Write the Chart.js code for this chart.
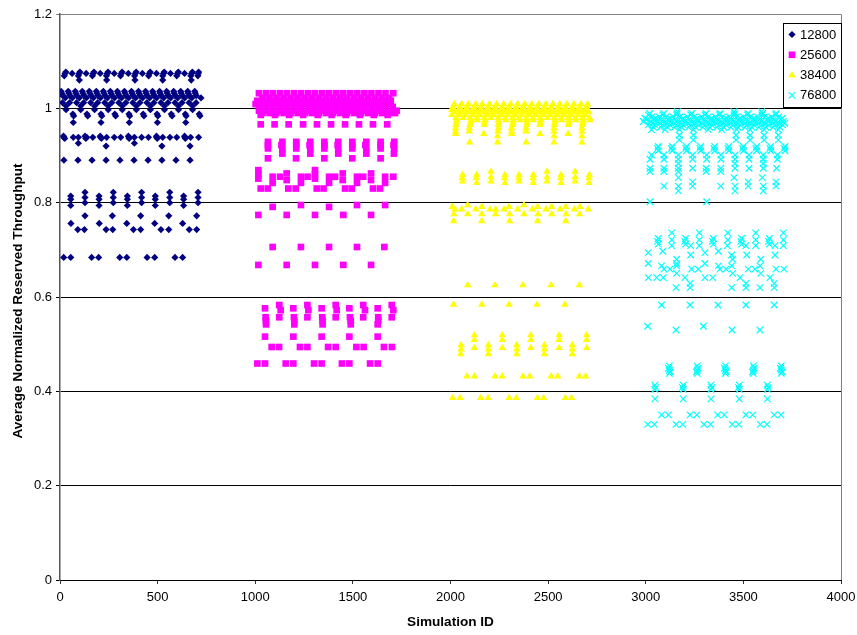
<!DOCTYPE html>
<html>
<head>
<meta charset="utf-8">
<title>Average Normalized Reserved Throughput</title>
<script src="https://cdn.jsdelivr.net/npm/chart.js@4"></script>
<style>
  html, body { margin: 0; padding: 0; background: #fff; }
  canvas { display: block; }
</style>
</head>
<body>
<canvas id="chart" width="857" height="635"></canvas>
<script>
const xTicks = [0, 500, 1000, 1500, 2000, 2500, 3000, 3500, 4000];
const yTicks = [0, 0.2, 0.4, 0.6, 0.8, 1, 1.2];
const seriesNames = ['12800', '25600', '38400', '76800'];

// every row is [throughput, [simulation ids]]
const rows12800 = [
  [1.077, [30, 102, 174, 246, 318, 390, 462, 534, 606, 678, 710]],
  [1.074, [26, 62, 98, 134, 170, 206, 242, 278, 314, 350, 386, 422, 458, 494, 530, 566, 602, 638, 674, 708]],
  [1.069, [22, 94, 166, 238, 310, 382, 454, 526, 598, 670, 706]],
  [1.060, [99, 239, 384, 526, 672]],
  [1.036, [6, 42, 78, 114, 150, 186, 222, 258, 294, 330, 366, 402, 438, 474, 510, 546, 582, 618, 654, 690]],
  [1.032, [9, 45, 81, 117, 153, 189, 225, 261, 297, 333, 369, 405, 441, 477, 513, 549, 585, 621, 657, 693]],
  [1.027, [14, 50, 86, 122, 158, 194, 230, 266, 302, 338, 374, 410, 446, 482, 518, 554, 590, 626, 662, 698]],
  [1.022, [27, 63, 99, 135, 171, 207, 243, 279, 315, 351, 387, 423, 459, 495, 531, 567, 603, 639, 675, 722]],
  [1.012, [13, 49, 85, 121, 157, 193, 229, 265, 301, 337, 373, 409, 445, 481, 517, 553, 589, 625, 661, 697]],
  [1.005, [31, 106, 177, 247, 319, 391, 463, 535, 607, 679]],
  [0.997, [31, 106, 177, 247, 319, 391, 463, 535, 607, 679]],
  [0.988, [66, 138, 210, 281, 353, 426, 497, 570, 642, 713]],
  [0.984, [70, 142, 214, 285, 357, 430, 501, 574, 646, 717]],
  [0.970, [68, 210, 355, 499, 644]],
  [0.941, [18, 128, 206, 350, 494, 638]],
  [0.9386, [20, 68, 94, 137, 168, 208, 239, 278, 311, 355, 381, 418, 453, 495, 526, 563, 598, 640, 669, 710]],
  [0.936, [24, 132, 212, 354, 498, 642]],
  [0.926, [94, 381]],
  [0.920, [236, 522, 666]],
  [0.890, [20, 92, 164, 236, 307, 379, 451, 522, 594, 666]],
  [0.822, [128, 273, 418, 562, 707]],
  [0.814, [55, 200, 345, 488, 633]],
  [0.811, [128, 273, 418, 562, 707]],
  [0.807, [55, 200, 345, 488, 633]],
  [0.800, [128, 273, 418, 562, 707]],
  [0.794, [55, 200, 345, 488, 633]],
  [0.772, [128, 268, 413, 557, 700]],
  [0.756, [56, 201, 342, 485, 628]],
  [0.743, [91, 125, 236, 270, 376, 413, 517, 557, 662, 700]],
  [0.684, [19, 55, 162, 198, 306, 342, 446, 485, 589, 628]]
];

const rows25600 = [
  [1.032, [1019, 1055, 1091, 1127, 1163, 1199, 1235, 1271, 1307, 1343, 1379, 1415, 1451, 1487, 1523, 1559, 1595, 1631, 1667, 1707]],
  [1.022, [1037, 1073, 1109, 1145, 1181, 1217, 1253, 1289, 1325, 1361, 1397, 1433, 1469, 1505, 1541, 1577, 1613, 1649, 1685]],
  [1.016, [1010, 1046, 1082, 1118, 1154, 1190, 1226, 1262, 1298, 1334, 1370, 1406, 1442, 1478, 1514, 1550, 1586, 1622, 1658, 1694]],
  [1.009, [1002, 1038, 1074, 1110, 1146, 1182, 1218, 1254, 1290, 1326, 1362, 1398, 1434, 1470, 1506, 1542, 1578, 1614, 1650, 1686]],
  [1.003, [1020, 1056, 1092, 1128, 1164, 1200, 1236, 1272, 1308, 1344, 1380, 1416, 1452, 1488, 1524, 1560, 1596, 1632, 1668, 1704]],
  [0.995, [1019, 1055, 1091, 1127, 1163, 1199, 1235, 1271, 1307, 1343, 1379, 1415, 1451, 1487, 1523, 1559, 1595, 1631, 1667, 1724]],
  [0.990, [1037, 1073, 1109, 1145, 1181, 1217, 1253, 1289, 1325, 1361, 1397, 1433, 1469, 1505, 1541, 1577, 1613, 1649, 1685, 1716]],
  [0.986, [1028, 1101, 1174, 1245, 1320, 1391, 1463, 1536, 1607, 1678]],
  [0.966, [1028, 1099, 1171, 1245, 1316, 1388, 1460, 1531, 1603, 1676]],
  [0.929, [1065, 1139, 1210, 1282, 1354, 1425, 1497, 1569, 1642, 1712]],
  [0.922, [1065, 1134, 1210, 1278, 1354, 1422, 1497, 1564, 1642, 1708]],
  [0.915, [1065, 1139, 1210, 1282, 1354, 1425, 1497, 1569, 1642, 1712]],
  [0.904, [1139, 1282, 1425, 1569, 1710]],
  [0.894, [1065, 1209, 1354, 1497, 1642]],
  [0.869, [1016, 1306]],
  [0.862, [1161, 1448, 1593]],
  [0.860, [1016, 1306]],
  [0.855, [1089, 1127, 1234, 1268, 1378, 1409, 1521, 1553, 1665, 1707]],
  [0.851, [1016, 1306]],
  [0.848, [1161, 1448, 1593]],
  [0.842, [1089, 1234, 1378, 1521, 1665]],
  [0.830, [1028, 1064, 1169, 1207, 1315, 1350, 1460, 1494, 1603, 1639]],
  [0.795, [1234, 1521, 1665]],
  [0.791, [1089, 1378]],
  [0.774, [1016, 1161, 1306, 1451, 1593]],
  [0.706, [1089, 1234, 1378, 1521, 1661]],
  [0.668, [1016, 1161, 1306, 1451, 1593]],
  [0.583, [1123, 1267, 1412, 1553, 1699]],
  [0.576, [1050, 1195, 1340, 1482, 1627]],
  [0.572, [1130, 1272, 1417, 1562, 1707]],
  [0.557, [1053, 1123, 1198, 1267, 1343, 1412, 1485, 1553, 1630, 1699]],
  [0.550, [1055, 1200, 1345, 1489, 1630]],
  [0.542, [1055, 1200, 1345, 1489, 1627]],
  [0.516, [1050, 1195, 1340, 1482, 1627]],
  [0.494, [1084, 1122, 1229, 1267, 1373, 1412, 1518, 1555, 1659, 1700]],
  [0.459, [1011, 1050, 1156, 1195, 1301, 1340, 1444, 1482, 1588, 1627]]
];

const rows38400 = [
  [1.009, [2020, 2057, 2091, 2129, 2163, 2200, 2236, 2272, 2308, 2344, 2380, 2416, 2452, 2488, 2524, 2560, 2596, 2632, 2668, 2702]],
  [1.003, [2012, 2048, 2084, 2120, 2156, 2192, 2228, 2264, 2300, 2336, 2372, 2408, 2444, 2480, 2516, 2552, 2588, 2624, 2660, 2696]],
  [0.997, [2006, 2042, 2078, 2114, 2150, 2186, 2222, 2258, 2294, 2330, 2366, 2402, 2438, 2474, 2510, 2546, 2582, 2618, 2654, 2690]],
  [0.992, [2024, 2060, 2096, 2132, 2168, 2204, 2240, 2276, 2312, 2348, 2384, 2420, 2456, 2492, 2528, 2564, 2600, 2636, 2672, 2708]],
  [0.986, [2006, 2042, 2078, 2114, 2150, 2186, 2222, 2258, 2294, 2330, 2366, 2402, 2438, 2474, 2510, 2546, 2582, 2618, 2654, 2690]],
  [0.980, [2028, 2064, 2100, 2136, 2172, 2208, 2244, 2280, 2316, 2352, 2388, 2424, 2460, 2496, 2532, 2568, 2604, 2640, 2676, 2712]],
  [0.975, [2032, 2105, 2137, 2177, 2245, 2283, 2322, 2356, 2390, 2424, 2463, 2535, 2569, 2607, 2641, 2680, 2714]],
  [0.970, [2030, 2102, 2175, 2247, 2320, 2392, 2460, 2534, 2606, 2677]],
  [0.965, [2028, 2100, 2173, 2245, 2318, 2390, 2458, 2532, 2604, 2675]],
  [0.958, [2026, 2096, 2245, 2313, 2387, 2530, 2673]],
  [0.951, [2026, 2096, 2243, 2313, 2387, 2530, 2673]],
  [0.946, [2026, 2170, 2313, 2458, 2602]],
  [0.941, [2241, 2530, 2673]],
  [0.928, [2098, 2241, 2387, 2530, 2673]],
  [0.866, [2207, 2494, 2638]],
  [0.859, [2062, 2134, 2279, 2351, 2424, 2566, 2711]],
  [0.854, [2207, 2494, 2638]],
  [0.852, [2060, 2132, 2277, 2349, 2422, 2564, 2709]],
  [0.845, [2062, 2207, 2351, 2494, 2638]],
  [0.842, [2134, 2279, 2424, 2566, 2709]],
  [0.795, [2088, 2376]],
  [0.791, [2009, 2160, 2300, 2446, 2518, 2590, 2663]],
  [0.786, [2023, 2057, 2129, 2202, 2231, 2274, 2344, 2419, 2489, 2561, 2634, 2706]],
  [0.776, [2018, 2088, 2160, 2231, 2303, 2376, 2448, 2518, 2592, 2661]],
  [0.761, [2016, 2160, 2303, 2446, 2590]],
  [0.625, [2088, 2228, 2371, 2515, 2660]],
  [0.584, [2016, 2160, 2300, 2443, 2586]],
  [0.519, [2122, 2265, 2411, 2556, 2697]],
  [0.509, [2122, 2265, 2411, 2556, 2697]],
  [0.498, [2054, 2194, 2339, 2481, 2624]],
  [0.492, [2122, 2265, 2411, 2556, 2697]],
  [0.489, [2054, 2194, 2339, 2481, 2624]],
  [0.479, [2052, 2194, 2339, 2481, 2624]],
  [0.432, [2084, 2122, 2228, 2265, 2371, 2405, 2515, 2549, 2660, 2692]],
  [0.386, [2011, 2049, 2154, 2192, 2300, 2337, 2445, 2477, 2588, 2620]]
];

const rows76800 = [
  [0.993, [3162, 3452, 3594]],
  [0.989, [3020, 3092, 3160, 3235, 3308, 3380, 3455, 3525, 3598, 3668]],
  [0.986, [3013, 3087, 3158, 3230, 3303, 3377, 3452, 3520, 3594, 3665]],
  [0.982, [3032, 3068, 3104, 3140, 3176, 3212, 3248, 3284, 3320, 3356, 3392, 3428, 3464, 3500, 3536, 3572, 3608, 3644, 3680]],
  [0.979, [2996, 3051, 3124, 3192, 3264, 3338, 3411, 3483, 3554, 3628, 3699]],
  [0.976, [3006, 3042, 3078, 3114, 3150, 3186, 3222, 3258, 3294, 3330, 3366, 3402, 3438, 3474, 3510, 3546, 3582, 3618, 3654, 3690]],
  [0.972, [2988, 3022, 3056, 3090, 3128, 3162, 3201, 3235, 3269, 3307, 3343, 3380, 3414, 3452, 3486, 3522, 3559, 3594, 3631, 3665, 3705]],
  [0.968, [3035, 3071, 3107, 3143, 3179, 3215, 3251, 3287, 3323, 3359, 3395, 3431, 3467, 3503, 3539, 3575, 3611, 3647, 3683, 3712]],
  [0.965, [3013, 3047, 3087, 3124, 3158, 3192, 3230, 3269, 3303, 3338, 3377, 3411, 3449, 3483, 3520, 3554, 3594, 3628, 3665, 3701]],
  [0.960, [3040, 3076, 3112, 3148, 3184, 3220, 3256, 3292, 3328, 3364, 3400, 3436, 3472, 3508, 3544, 3580, 3616, 3652, 3688]],
  [0.955, [3030, 3099, 3172, 3244, 3320, 3389, 3466, 3534, 3606, 3679]],
  [0.943, [3172, 3244, 3462, 3534, 3606, 3679]],
  [0.933, [3172, 3244, 3462, 3534, 3606, 3679]],
  [0.919, [3064, 3136, 3209, 3281, 3353, 3425, 3500, 3568, 3640, 3713]],
  [0.915, [3060, 3132, 3205, 3277, 3349, 3421, 3496, 3564, 3636, 3709]],
  [0.910, [3064, 3136, 3209, 3281, 3353, 3425, 3500, 3568, 3640, 3713]],
  [0.901, [3030, 3093, 3167, 3240, 3312, 3385, 3457, 3529, 3602, 3674]],
  [0.892, [3022, 3093, 3167, 3240, 3312, 3385, 3457, 3529, 3602, 3674]],
  [0.883, [3167, 3457, 3602]],
  [0.873, [3022, 3093, 3167, 3240, 3309, 3384, 3457, 3529, 3602, 3670]],
  [0.866, [3022, 3093, 3167, 3309, 3384]],
  [0.853, [3167, 3452, 3597]],
  [0.844, [3240, 3525, 3667]],
  [0.835, [3093, 3167, 3240, 3384, 3457, 3525, 3602, 3667]],
  [0.825, [3167, 3457, 3602]],
  [0.802, [3022, 3312]],
  [0.736, [3133, 3274, 3420, 3563, 3705]],
  [0.724, [3064, 3204, 3346, 3491, 3633]],
  [0.721, [3133, 3274, 3420, 3563, 3705]],
  [0.718, [3060, 3200, 3342, 3487, 3629]],
  [0.712, [3064, 3204, 3346, 3491, 3633]],
  [0.709, [3133, 3230, 3274, 3418, 3513, 3563, 3662, 3705]],
  [0.697, [3087, 3372]],
  [0.694, [3013, 3303]],
  [0.689, [3230, 3440, 3517, 3662]],
  [0.680, [3158, 3445, 3589]],
  [0.671, [3013, 3158, 3303]],
  [0.666, [3081, 3158, 3372, 3440, 3585]],
  [0.659, [3093, 3124, 3235, 3269, 3380, 3411, 3525, 3559, 3667, 3708]],
  [0.650, [3158, 3445, 3589]],
  [0.641, [3013, 3056, 3090, 3201, 3303, 3343, 3483, 3636]],
  [0.629, [3227, 3513, 3658]],
  [0.620, [3155, 3227, 3440, 3513, 3585, 3658]],
  [0.583, [3081, 3227, 3370, 3513, 3658]],
  [0.538, [3010, 3295]],
  [0.530, [3155, 3442, 3585]],
  [0.454, [3121, 3264, 3408, 3551, 3694]],
  [0.449, [3117, 3268, 3404, 3555, 3690]],
  [0.445, [3121, 3264, 3408, 3551, 3694]],
  [0.441, [3125, 3260, 3412, 3547, 3698]],
  [0.438, [3121, 3264, 3408, 3551, 3694]],
  [0.413, [3047, 3192, 3334, 3479, 3623]],
  [0.408, [3051, 3188, 3338, 3475, 3627]],
  [0.404, [3047, 3192, 3334, 3479, 3623]],
  [0.384, [3047, 3192, 3334, 3479, 3623]],
  [0.350, [3081, 3116, 3227, 3261, 3368, 3402, 3513, 3548, 3658, 3693]],
  [0.330, [3010, 3044, 3155, 3189, 3298, 3332, 3443, 3476, 3587, 3621]]
];

const FONT = '"Liberation Sans", Arial, sans-serif';

function toPoints(rows) {
  return rows.flatMap(row => row[1].map(id => ({ x: id, y: row[0] })));
}

const markerStyles = [
  { pointStyle: 'rectRot', radius: 3.6, fill: '#000080', stroke: '#000080', width: 0 },
  { pointStyle: 'rect', radius: 4.7, fill: '#ff00ff', stroke: '#ff00ff', width: 0 },
  { pointStyle: 'triangle', radius: 4.3, fill: '#ffff00', stroke: '#ffff00', width: 0 },
  { pointStyle: 'crossRot', radius: 4.6, fill: '#00ffff', stroke: '#00ffff', width: 1.2 }
];

const allRows = [rows12800, rows25600, rows38400, rows76800];

const datasets = seriesNames.map((name, i) => ({
  label: name,
  data: toPoints(allRows[i]),
  pointStyle: markerStyles[i].pointStyle,
  pointRadius: markerStyles[i].radius,
  pointBackgroundColor: markerStyles[i].fill,
  pointBorderColor: markerStyles[i].stroke,
  pointBorderWidth: markerStyles[i].width,
  showLine: false
}));

// gris arriba y a la derecha del area de trazado
const plotFrame = {
  id: 'plotFrame',
  beforeDatasetsDraw(chart) {
    const { ctx, chartArea: a } = chart;
    ctx.save();
    ctx.strokeStyle = '#808080';
    ctx.lineWidth = 1;
    ctx.beginPath();
    ctx.moveTo(a.left, a.top + 0.5);
    ctx.lineTo(a.right + 0.5, a.top + 0.5);
    ctx.lineTo(a.right + 0.5, a.bottom);
    ctx.stroke();
    ctx.restore();
  }
};

// the y title sits a little below the plot centre, a scale title can't do that
const yAxisTitle = {
  id: 'yAxisTitle',
  afterDraw(chart) {
    const { ctx } = chart;
    ctx.save();
    ctx.translate(18, 301);
    ctx.rotate(-Math.PI / 2);
    ctx.font = 'bold 13.6px ' + FONT;
    ctx.fillStyle = '#000';
    ctx.textAlign = 'center';
    ctx.textBaseline = 'middle';
    ctx.fillText('Average Normalized Reserved Throughput', 0, 0);
    ctx.restore();
  }
};

// the legend sits inside the plot, so it is drawn by hand over the marks
const boxLegend = {
  id: 'boxLegend',
  afterDraw(chart) {
    const { ctx } = chart;
    const left = 783, top = 23, w = 58, h = 84, rowH = 20.3;
    ctx.save();
    ctx.fillStyle = '#fff';
    ctx.strokeStyle = '#000';
    ctx.lineWidth = 1;
    ctx.fillRect(left, top, w, h);
    ctx.strokeRect(left + 0.5, top + 0.5, w, h);
    ctx.font = '13px ' + FONT;
    ctx.textBaseline = 'middle';
    seriesNames.forEach((name, i) => {
      const y = top + 11.5 + i * rowH;
      const m = markerStyles[i];
      ctx.fillStyle = m.fill;
      ctx.strokeStyle = m.stroke;
      ctx.lineWidth = m.width;
      Chart.helpers.drawPoint(ctx, { pointStyle: m.pointStyle, radius: m.radius, borderWidth: m.width }, left + 9, y);
      ctx.fillStyle = '#000';
      ctx.fillText(name, left + 17, y + 0.5);
    });
    ctx.restore();
  }
};

new Chart(document.getElementById('chart').getContext('2d'), {
  type: 'scatter',
  data: { datasets },
  plugins: [plotFrame, yAxisTitle, boxLegend],
  options: {
    responsive: false,
    animation: false,
    layout: { autoPadding: false, padding: { left: 0, right: 16, top: 14, bottom: 0 } },
    plugins: { legend: { display: false }, tooltip: { enabled: false } },
    scales: {
      x: {
        type: 'linear',
        min: 0,
        max: 4000,
        afterBuildTicks: s => { s.ticks = xTicks.map(v => ({ value: v })); },
        // el ultimo label sobresale, sin esto el area se achica
        afterFit: s => { s.height = 55; s.paddingLeft = 0; s.paddingRight = 0; },
        grid: { drawOnChartArea: false, drawTicks: true, tickLength: 4, color: '#333' },
        border: { color: '#000', width: 1 },
        ticks: {
          autoSkip: false, maxRotation: 0, padding: 6, color: '#000',
          font: { family: FONT, size: 13 },
          callback: v => String(v)
        },
        title: {
          display: true, text: 'Simulation ID', color: '#000', padding: { top: 4, bottom: 5 },
          font: { family: FONT, size: 13.6, weight: 'bold' }
        }
      },
      y: {
        type: 'linear',
        min: 0,
        max: 1.2,
        afterBuildTicks: s => { s.ticks = yTicks.map(v => ({ value: v })); },
        afterFit: s => { s.width = 60; },
        grid: {
          tickLength: 4,
          color: c => (c.tick && c.tick.value === 1.2) ? '#808080' : '#000'
        },
        border: { color: '#555', width: 1.5 },
        ticks: {
          autoSkip: false, padding: 4, color: '#000',
          font: { family: FONT, size: 13 },
          callback: v => String(v)
        }
      }
    }
  }
});
</script>
</body>
</html>
